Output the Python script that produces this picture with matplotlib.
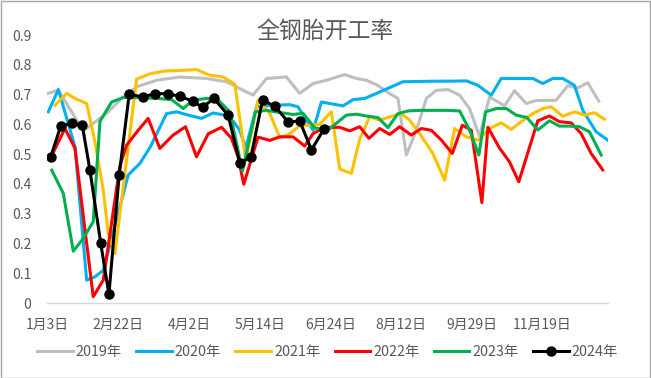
import matplotlib
matplotlib.use("Agg")
import matplotlib.pyplot as plt
from matplotlib.patches import Rectangle

plt.rcParams['font.family'] = ['Noto Sans CJK SC', 'DejaVu Sans']

# %% Data (x in weeks from 1月3日, value = operating rate)

tick_pos = [0, 6, 12, 18, 24, 30, 36, 42]
tick_labels = ['1月3日', '2月22日', '4月2日', '5月14日',
               '6月24日', '8月12日', '9月29日', '11月19日']

wk_2019 = [0.07, 0.92, 3.03, 5.02, 6.42, 7.56, 9.25, 11.23, 13.49, 15.19,
           16.31, 17.44, 18.58, 20.27, 21.4, 22.53, 23.66, 25.21, 26.2, 27.05,
           28.01, 29.03, 29.73, 30.44, 31.29, 32.14, 32.98, 33.97, 34.96, 35.8,
           36.65, 37.5, 38.77, 39.62, 40.61, 41.46, 43.15, 44.14, 44.98, 45.83,
           46.76]
val_2019 = [0.704, 0.715, 0.578, 0.637, 0.692, 0.726, 0.748, 0.759, 0.754, 0.743,
            0.72, 0.698, 0.754, 0.759, 0.704, 0.737, 0.748, 0.767, 0.754, 0.748,
            0.731, 0.703, 0.687, 0.497, 0.58, 0.687, 0.714, 0.717, 0.698, 0.653,
            0.56, 0.692, 0.662, 0.713, 0.67, 0.68, 0.681, 0.73, 0.722, 0.74,
            0.678]

wk_2020 = [0.07, 0.92, 2.33, 3.32, 4.03, 4.73, 6.29, 6.85, 7.84, 8.69,
           10.1, 10.95, 11.93, 13.07, 14.05, 15.04, 15.8, 16.31, 16.82, 17.73,
           19.14, 20.55, 21.25, 21.97, 22.53, 23.24, 24.22, 25.07, 25.92, 26.91,
           28.03, 29.17, 30.15, 31.57, 32.98, 34.39, 35.53, 36.51, 37.64, 38.49,
           40.04, 41.17, 42.02, 42.86, 43.71, 44.7, 45.41, 46.54, 47.53]
val_2020 = [0.642, 0.717, 0.525, 0.077, 0.088, 0.11, 0.346, 0.43, 0.469, 0.522,
            0.636, 0.642, 0.631, 0.620, 0.638, 0.631, 0.608, 0.58, 0.52, 0.659,
            0.664, 0.666, 0.659, 0.614, 0.58, 0.675, 0.668, 0.662, 0.683, 0.687,
            0.706, 0.726, 0.743, 0.744, 0.745, 0.745, 0.746, 0.731, 0.698, 0.754,
            0.754, 0.754, 0.737, 0.754, 0.754, 0.731, 0.647, 0.575, 0.547]

wk_2021 = [0.64, 1.63, 2.33, 3.32, 4.03, 4.73, 5.15, 5.72, 7.56, 8.69,
           9.96, 11.23, 12.64, 13.77, 14.9, 15.89, 16.82, 17.86, 18.86, 19.7,
           20.41, 21.4, 23.09, 24.08, 24.79, 25.78, 26.48, 27.33, 28.18, 29.03,
           30.02, 30.72, 31.57, 32.69, 33.69, 34.53, 35.53, 36.51, 37.5, 38.49,
           39.34, 40.19, 41.17, 42.02, 42.73, 43.71, 44.7, 45.55, 46.4, 47.25]
val_2021 = [0.664, 0.704, 0.687, 0.670, 0.540, 0.379, 0.233, 0.166, 0.752, 0.770,
            0.779, 0.781, 0.784, 0.765, 0.759, 0.735, 0.48, 0.681, 0.636, 0.556,
            0.565, 0.595, 0.60, 0.642, 0.45, 0.435, 0.55, 0.625, 0.614, 0.625,
            0.636, 0.614, 0.569, 0.502, 0.413, 0.586, 0.558, 0.547, 0.586, 0.605,
            0.583, 0.609, 0.636, 0.653, 0.659, 0.627, 0.642, 0.631, 0.639, 0.617]

wk_2022 = [0.3, 1.48, 2.33, 3.88, 4.73, 6.14, 6.71, 7.69, 8.54, 9.53,
           10.66, 11.71, 12.64, 13.63, 14.76, 15.61, 16.17, 16.65, 17.86, 18.86,
           19.7, 20.83, 21.82, 22.53, 23.52, 24.79, 25.64, 26.48, 27.27, 28.18,
           29.03, 29.87, 30.86, 31.71, 32.56, 33.41, 34.34, 35.19, 35.95, 36.85,
           37.36, 38.35, 39.19, 39.98, 41.59, 42.58, 43.43, 44.42, 45.27, 46.12,
           47.1]
val_2022 = [0.49, 0.586, 0.52, 0.021, 0.077, 0.46, 0.53, 0.58, 0.62, 0.519,
            0.564, 0.592, 0.491, 0.568, 0.59, 0.553, 0.49, 0.399, 0.557, 0.546,
            0.558, 0.558, 0.527, 0.569, 0.59, 0.59, 0.578, 0.592, 0.553, 0.586,
            0.566, 0.592, 0.564, 0.586, 0.58, 0.547, 0.502, 0.597, 0.58, 0.337,
            0.59, 0.52, 0.474, 0.407, 0.612, 0.628, 0.609, 0.605, 0.569, 0.502,
            0.447]

wk_2023 = [0.36, 1.34, 2.19, 3.03, 3.88, 4.45, 5.44, 6.42, 7.84, 9.25,
           10.53, 11.51, 12.36, 13.49, 14.34, 15.47, 16.54, 17.63, 18.58, 19.7,
           20.83, 21.68, 22.67, 23.8, 25.36, 26.2, 27.19, 28.03, 28.88, 29.73,
           30.58, 31.57, 32.69, 33.83, 34.96, 35.8, 36.59, 37.16, 38.07, 38.92,
           39.76, 40.66, 41.59, 42.58, 43.43, 44.28, 45.13, 45.97, 46.97]
val_2023 = [0.446, 0.368, 0.174, 0.217, 0.273, 0.61, 0.675, 0.690, 0.690, 0.687,
            0.683, 0.653, 0.681, 0.687, 0.687, 0.642, 0.443, 0.642, 0.647, 0.640,
            0.633, 0.637, 0.588, 0.581, 0.631, 0.634, 0.627, 0.623, 0.589, 0.636,
            0.645, 0.647, 0.647, 0.647, 0.645, 0.581, 0.497, 0.642, 0.653, 0.653,
            0.631, 0.623, 0.581, 0.612, 0.594, 0.594, 0.592, 0.575, 0.497]

wk_2024 = [0.27, 1.12, 2.05, 2.95, 3.60, 4.51, 5.21, 6.08, 6.93, 8.07,
           9.11, 10.19, 11.23, 12.31, 13.15, 14.11, 15.32, 16.31, 17.25, 18.24,
           19.28, 20.41, 21.40, 22.39, 23.43]
val_2024 = [0.491, 0.594, 0.603, 0.597, 0.446, 0.202, 0.029, 0.43, 0.701, 0.692,
            0.703, 0.703, 0.694, 0.678, 0.657, 0.687, 0.631, 0.471, 0.489, 0.681,
            0.661, 0.608, 0.611, 0.514, 0.583]

# %% Plot

fig = plt.figure(figsize=(6.51, 3.78), dpi=100)
ax = fig.add_axes([0.0717, 0.1984, 0.8623, 0.709])

series = [
    (wk_2019, val_2019, '#BFBFBF', '2019年'),
    (wk_2020, val_2020, '#00B0F0', '2020年'),
    (wk_2021, val_2021, '#FFC000', '2021年'),
    (wk_2022, val_2022, '#FF0000', '2022年'),
    (wk_2023, val_2023, '#00B050', '2023年'),
]
for x, y, c, name in series:
    ax.plot(x, y, color=c, lw=2.2, label=name, solid_joinstyle='round')

# 2024 with markers
ax.plot(wk_2024, val_2024, color='black', lw=2.2, marker='o', ms=6.5,
        label='2024年', solid_joinstyle='round')

ax.set_xlim(-0.07, 47.55)
ax.set_ylim(0, 0.9)
ax.set_yticks([i / 10 for i in range(10)])
ax.set_yticklabels(['0'] + [f'{i / 10:.1f}' for i in range(1, 10)])
ax.set_xticks(tick_pos)
ax.set_xticklabels(tick_labels)

ax.tick_params(axis='both', which='both', length=0, labelsize=10,
               labelcolor='#595959')
ax.tick_params(axis='x', pad=11)
ax.tick_params(axis='y', pad=11)

for side in ['top', 'right', 'left']:
    ax.spines[side].set_visible(False)
ax.spines['bottom'].set_color('#D9D9D9')
ax.spines['bottom'].set_linewidth(1)

fig.text(0.5, 0.918, '全钢胎开工率', ha='center', va='center',
         fontsize=16.5, color='#595959')

ax.legend(loc='center', bbox_to_anchor=(0.503, 0.069),
          bbox_transform=fig.transFigure, ncol=6, frameon=False,
          fontsize=10.3, handlelength=2.5, columnspacing=1.0, handletextpad=0.2,
          labelcolor='#595959')

# Chart border
fig.patches.append(Rectangle((0.001, 0.001), 0.997, 0.997, transform=fig.transFigure,
                             fill=False, edgecolor='#A6A6A6', lw=1))

plt.savefig('out.png', dpi=100)
